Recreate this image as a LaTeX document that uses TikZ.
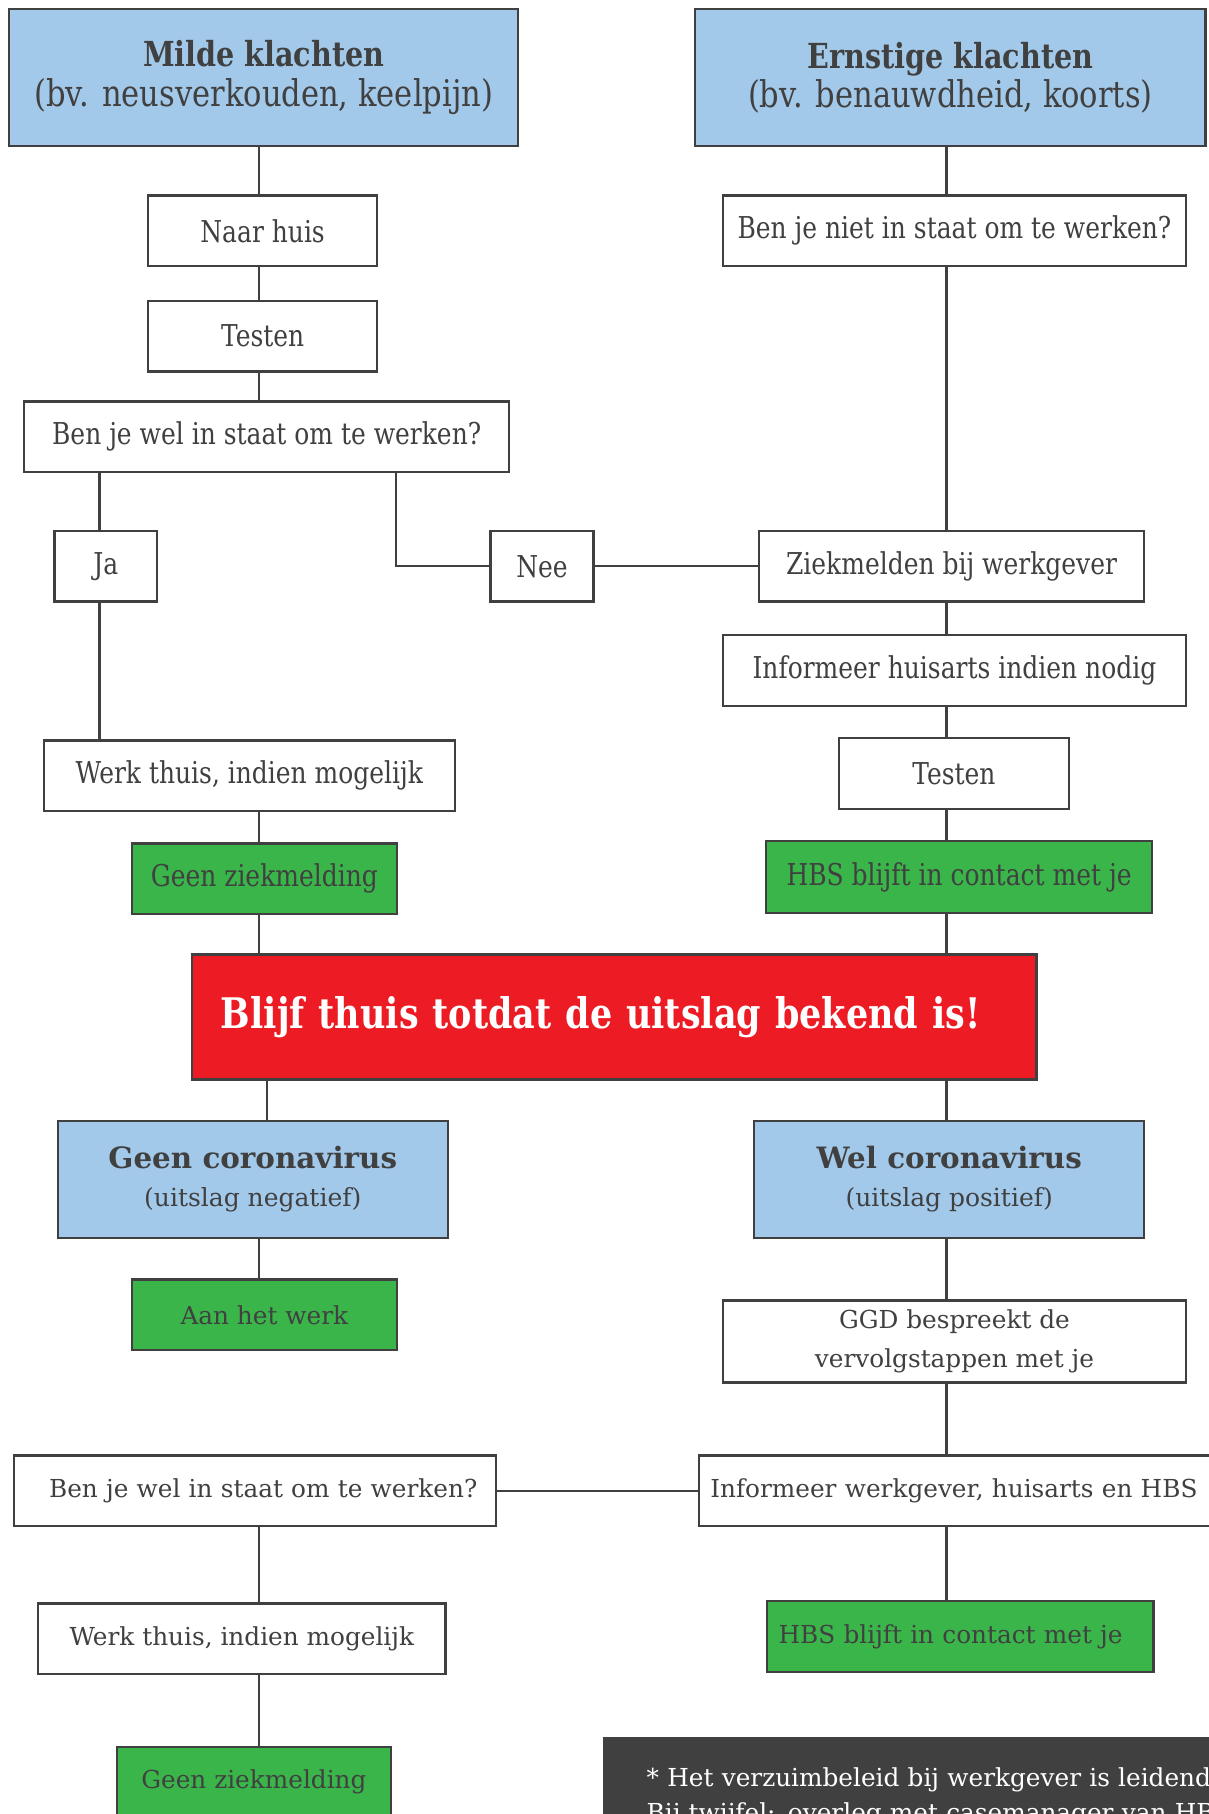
\documentclass[tikz,border=0pt]{standalone}
\usepackage{fontspec}
\setmainfont{DejaVu Serif}[FakeStretch=0.83]
\newfontfamily\widefont{DejaVu Serif}
\usetikzlibrary{positioning}

\definecolor{txtgray}{HTML}{404040}
\definecolor{linegray}{HTML}{404040}
\definecolor{lightblue}{HTML}{A3C9EA}
\definecolor{hbsgreen}{HTML}{3AB54A}
\definecolor{alertred}{HTML}{ED1C24}

\tikzset{
	stepbox/.style={draw=linegray,line width=1pt,fill=white,text=txtgray,rectangle,
		inner sep=0pt,minimum height=30.5pt,font=\fontsize{13}{15}\selectfont},
	widebox/.style={stepbox,font=\widefont\fontsize{10.7}{17}\selectfont},
	headbox/.style={stepbox,fill=lightblue,align=center,font=\fontsize{15.9}{17}\selectfont},
	resultbox/.style={widebox,fill=lightblue,align=center,font=\widefont\fontsize{10.8}{16.5}\selectfont},
	greenbox/.style={stepbox,fill=hbsgreen},
	link/.style={draw=linegray,line width=1pt}
}

\begin{document}
\begin{tikzpicture}[x=0.5pt,y=-0.5pt,node distance=14pt]
		\useasboundingbox (0,0) rectangle (1045,1568);
		\clip (0,0) rectangle (1045,1568);

		\coordinate (colL) at (224,0);
		\coordinate (colLb) at (231,0);
		\coordinate (colJa) at (86,0);
		\coordinate (colNee) at (342,0);
		\coordinate (colR) at (818,0);

		% mild branch
		\node [headbox,minimum width=220pt,minimum height=59pt] (mild) at (228,67)
			{{\bfseries\fontsize{14.9}{17}\selectfont Milde klachten}\\(bv. neusverkouden, keelpijn)};
		\node [stepbox,minimum width=99pt] (naarhuis) at (227,199.5) {Naar huis};
		\node [stepbox,minimum width=99pt,below=of naarhuis] (testenL) {Testen};
		\node [stepbox,minimum width=209.5pt] (welstaat) at (230.5,377.5) {Ben je wel in staat om te werken?};
		\node [stepbox,minimum width=44.5pt] (ja) at (91.5,489.5) {Ja};
		\node [stepbox,minimum width=44.5pt] (nee) at (468.5,489.5) {Nee};
		\node [stepbox,minimum width=177.5pt] (werkthuis) at (215.5,670.5) {Werk thuis, indien mogelijk};
		\node [greenbox,minimum width=114.5pt] (geenziek) at (228.5,759.5) {Geen ziekmelding};

		% ernstig branch
		\node [headbox,minimum width=220.5pt,minimum height=59pt] (ernstig) at (821.5,67)
			{{\bfseries\fontsize{14.9}{17}\selectfont Ernstige klachten}\\(bv. benauwdheid, koorts)};
		\node [stepbox,minimum width=200pt] (nietstaat) at (825,199.5) {Ben je niet in staat om te werken?};
		\node [stepbox,minimum width=166.5pt] (ziek) at (822.5,489.5) {Ziekmelden bij werkgever};
		\node [stepbox,minimum width=200pt] (huisarts) at (825,579.5) {Informeer huisarts indien nodig};
		\node [stepbox,minimum width=99.5pt] (testenR) at (824.5,668.5) {Testen};
		\node [greenbox,minimum width=167pt,minimum height=31pt] (hbs) at (829,758) {HBS blijft in contact met je};

		% wait for result
		\node [stepbox,fill=alertred,text=white,anchor=west,align=left,text width=340pt,
			inner xsep=12.5pt,minimum height=54pt,font=\bfseries\fontsize{18.2}{20}\selectfont] (thuis) at (165,879)
			{Blijf thuis totdat de uitslag bekend is!};

		\node [resultbox,minimum width=168.5pt,minimum height=50.5pt] (negatief) at (218.5,1019.5)
			{{\bfseries\fontsize{12.7}{16.5}\selectfont Geen coronavirus}\\(uitslag negatief)};
		\node [resultbox,minimum width=168.5pt,minimum height=50.5pt] (positief) at (820.5,1019.5)
			{{\bfseries\fontsize{12.7}{16.5}\selectfont Wel coronavirus}\\(uitslag positief)};

		\node [widebox,fill=hbsgreen,minimum width=114.5pt] (aanwerk) at (228.5,1136.5) {Aan het werk};
		\node [widebox,align=center,minimum width=200pt,minimum height=35.5pt] (ggd) at (825,1159.5)
			{GGD bespreekt de\\vervolgstappen met je};

		\node [widebox,anchor=west,align=center,text width=195.5pt,inner xsep=6.5pt] (welstaatB) at (11,1288.5)
			{\hspace*{7pt}Ben je wel in staat om te werken?};
		\node [widebox,anchor=west,align=left,text width=230pt,inner xsep=5pt] (informeer) at (603,1288.5)
			{Informeer werkgever, huisarts en HBS};
		\node [widebox,minimum width=176pt] (werkthuisB) at (209,1416.5) {Werk thuis, indien mogelijk};
		\node [widebox,fill=hbsgreen,anchor=west,align=left,text width=157pt,inner xsep=5pt] (hbsB) at (662,1414.5)
			{HBS blijft in contact met je};
		\node [widebox,fill=hbsgreen,minimum width=118.5pt] (geenziekB) at (219.5,1540.5) {Geen ziekmelding};

		\node [widebox,fill=linegray,text=white,anchor=north west,align=left,text width=300pt,
			inner xsep=18.5pt,inner ysep=13pt,font=\widefont\fontsize{10.7}{15}\selectfont] (note) at (521,1501)
			{* Het verzuimbeleid bij werkgever is leidend.\\* Bij twijfel: overleg met casemanager van HBS.};

		% connectors, left column
		\draw [link] (mild.south -| colL) -- (naarhuis.north -| colL);
		\draw [link] (naarhuis.south -| colL) -- (testenL.north -| colL);
		\draw [link] (testenL.south -| colL) -- (welstaat.north -| colL);
		\draw [link] (welstaat.south -| colJa) -- (ja.north -| colJa);
		\draw [link] (ja.south -| colJa) -- (werkthuis.north -| colJa);
		\draw [link] (welstaat.south -| colNee) |- (nee.west);
		\draw [link] (nee.east) -- (ziek.west);
		\draw [link] (werkthuis.south -| colL) -- (geenziek.north -| colL);
		\draw [link] (geenziek.south -| colL) -- (thuis.north -| colL);
		\draw [link] (thuis.south -| colLb) -- (negatief.north -| colLb);
		\draw [link] (negatief.south -| colL) -- (aanwerk.north -| colL);
		\draw [link] (welstaatB.south -| colL) -- (werkthuisB.north -| colL);
		\draw [link] (werkthuisB.south -| colL) -- (geenziekB.north -| colL);
		\draw [link] (welstaatB.east) -- (informeer.west);

		% connectors, right column
		\draw [link] (ernstig.south -| colR) -- (nietstaat.north -| colR);
		\draw [link] (nietstaat.south -| colR) -- (ziek.north -| colR);
		\draw [link] (ziek.south -| colR) -- (huisarts.north -| colR);
		\draw [link] (huisarts.south -| colR) -- (testenR.north -| colR);
		\draw [link] (testenR.south -| colR) -- (hbs.north -| colR);
		\draw [link] (hbs.south -| colR) -- (thuis.north -| colR);
		\draw [link] (thuis.south -| colR) -- (positief.north -| colR);
		\draw [link] (positief.south -| colR) -- (ggd.north -| colR);
		\draw [link] (ggd.south -| colR) -- (informeer.north -| colR);
		\draw [link] (informeer.south -| colR) -- (hbsB.north -| colR);
	\end{tikzpicture}
\end{document}
